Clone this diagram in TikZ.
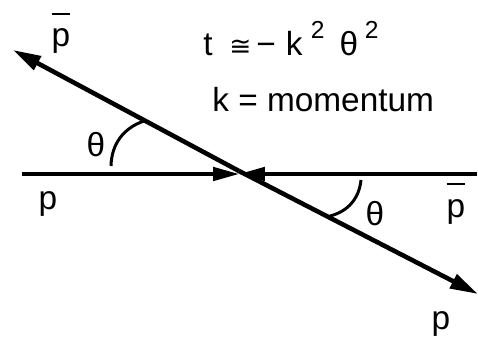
\documentclass[tikz,border=0pt]{standalone}
\usepackage{fontspec}
\setmainfont{Liberation Sans}
\newfontfamily\symfont{DejaVu Sans}
\usetikzlibrary{arrows.meta}
\newcommand{\pbar}{\leavevmode\rlap{\rule[0.95em]{0.56em}{0.07em}}p}
\newcommand{\sqr}{\raisebox{0.5em}{\fontsize{14}{14}\selectfont 2}}

\begin{document}
\begin{tikzpicture}[x=0.02cm,y=-0.02cm,
  font=\fontsize{19}{22}\selectfont,
  beam/.style={-{Triangle[length=0.52cm,width=0.27cm]},line width=1.9pt},
  recoil/.style={-{Triangle[length=0.56cm,width=0.3cm]},line width=2.6pt},
  angle/.style={line width=1.7pt},
  lbl/.style={inner sep=0pt,anchor=base}
]
\useasboundingbox (0,0) rectangle (478,338);
\coordinate (v) at (239,174);
\coordinate (vd) at (239,171);
\coordinate (inL) at (22,174);
\coordinate (inR) at (477,174);
\coordinate (outUL) at (13,50);
\coordinate (outLR) at (478,294);
\draw[beam] (inL) -- (v);
\draw[beam] (inR) -- (v);
\draw[recoil] (vd) -- (outUL);
\draw[recoil] (vd) -- (outLR);
% angle marks
\coordinate (aU1) at (111,166);
\coordinate (aU2) at (144,121);
\coordinate (aL1) at (361,180);
\coordinate (aL2) at (330,216);
\draw[angle] (aU1) to[bend left=35] (aU2);
\draw[angle] (aL1) to[bend left=35] (aL2);
\node[lbl] (pbarUL) at (61,47) {\pbar};
\node[lbl] (pL) at (48,210) {p};
\node[lbl] (pbarR) at (456,217) {\pbar};
\node[lbl] (pLR) at (441,330) {p};
\node[lbl] (thU) at (96,156) {θ};
\node[lbl] (thL) at (375,226) {θ};
\node[anchor=base west,inner sep=0pt] (tform) at (203,55)
  {t\hspace{0.5em}{\symfont\fontsize{15}{15}\selectfont ≅}\hspace{0.15em}−\hspace{0.3em}k\hspace{0.25em}\sqr\hspace{0.45em}θ\hspace{0.2em}\sqr};
\node[anchor=base west,inner sep=0pt] (kdef) at (212,112) {k = momentum};
\end{tikzpicture}
\end{document}
